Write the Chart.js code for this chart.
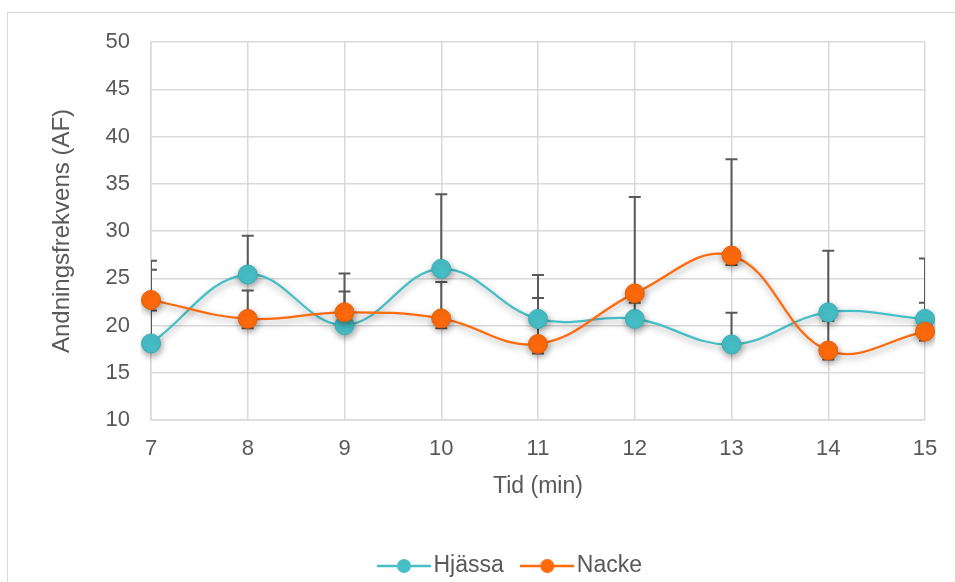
<!DOCTYPE html>
<html>
<head>
<meta charset="utf-8">
<script src="https://cdn.jsdelivr.net/npm/chart.js@4/dist/chart.umd.min.js"></script>
<style>
  html, body { margin: 0; padding: 0; background: #ffffff; overflow: hidden; }
  #frame { position: absolute; left: 7px; top: 12px; width: 2000px; height: 2000px; border: 1px solid #d9d9d9; }
  #wrap { position: absolute; left: 0; top: 0; width: 955px; height: 582px; }
</style>
</head>
<body>
<div id="frame"></div>
<div id="wrap"><canvas id="c" width="955" height="582"></canvas></div>
<script>
// ---- data ----
const categories = ['7', '8', '9', '10', '11', '12', '13', '14', '15'];
const seriesNames = ['Hjässa', 'Nacke'];
const hjassa = [18.1, 25.4, 20.05, 26.0, 20.7, 20.7, 18.0, 21.4, 20.7];
const nacke  = [22.7, 20.7, 21.4, 20.75, 18.05, 23.4, 27.4, 17.35, 19.35];
// error bars (deltas)
const hjassaPlus = [8.75, 4.1, 5.45, 7.9, 4.65, 2.2, 3.35, 6.5, 6.4];
const nackePlus  = [3.2, 3.0, 2.2, 3.85, 4.85, 10.2, 10.2, 3.15, 3.05];
const nackeMinus = [1.1, 1.0, 1.0, 1.05, 1.0, 1.0, 1.0, 0.95, 0.95];
const yTicks = [10, 15, 20, 25, 30, 35, 40, 45, 50];

const TEAL = '#46bfc7';
const ORANGE = '#ff6a0c';
const GRID = '#d9d9d9';
const TXT = '#595959';
const FONT = "'Liberation Sans', Arial, sans-serif";

function makeIcon(color) {
  const cv = document.createElement('canvas');
  cv.width = 54; cv.height = 20;
  const g = cv.getContext('2d');
  g.strokeStyle = color; g.lineWidth = 2.5;
  g.beginPath(); g.moveTo(0, 10); g.lineTo(54, 10); g.stroke();
  g.fillStyle = color;
  g.beginPath(); g.arc(27, 10, 7, 0, Math.PI * 2); g.fill();
  return cv;
}
const icons = [makeIcon(TEAL), makeIcon(ORANGE)];

const errorBars = {
  id: 'errorBars',
  beforeDatasetsDraw(chart) {
    const ctx = chart.ctx, xs = chart.scales.x, ys = chart.scales.y, a = chart.chartArea;
    ctx.save();
    ctx.beginPath(); ctx.rect(a.left, a.top, a.right - a.left, a.bottom - a.top); ctx.clip();
    ctx.strokeStyle = '#595959'; ctx.lineWidth = 2;
    const cap = 6;
    function bar(i, from, to) {
      const x = xs.getPixelForValue(i);
      const y0 = ys.getPixelForValue(from), y1 = ys.getPixelForValue(to);
      ctx.beginPath(); ctx.moveTo(x, y0); ctx.lineTo(x, y1);
      ctx.moveTo(x - cap, y1); ctx.lineTo(x + cap, y1); ctx.stroke();
    }
    categories.forEach((c, i) => {
      bar(i, hjassa[i], hjassa[i] + hjassaPlus[i]);
      bar(i, nacke[i], nacke[i] + nackePlus[i]);
      bar(i, nacke[i], nacke[i] - nackeMinus[i]);
    });
    ctx.restore();
  }
};

const shadows = {
  id: 'shadows',
  beforeDatasetDraw(chart) {
    const ctx = chart.ctx;
    ctx.save();
    ctx.shadowColor = 'rgba(0,0,0,0.38)';
    ctx.shadowBlur = 7;
    ctx.shadowOffsetX = 1;
    ctx.shadowOffsetY = 3;
  },
  afterDatasetDraw(chart) { chart.ctx.restore(); }
};

const legendPlace = {
  id: 'legendPlace',
  afterLayout(chart) {
    const lg = chart.legend;
    if (!lg || !lg.lineWidths) return;
    const p = lg.options.labels.padding;
    const curX = (lg.left + p + lg.right - lg.lineWidths[0]) / 2;
    const dx = 386 - curX;
    lg.left += dx; lg.right += dx;
    const h = lg.height;
    lg.top = 554.5 - p; lg.bottom = lg.top + h;
  }
};

new Chart(document.getElementById('c'), {
  type: 'line',
  data: {
    labels: categories,
    datasets: [
      { label: seriesNames[0], data: hjassa, order: 1, borderColor: TEAL, backgroundColor: TEAL,
        pointBackgroundColor: TEAL, pointBorderColor: '#3aaeb6', pointBorderWidth: 1,
        borderWidth: 2.25, pointRadius: 9.5, pointHoverRadius: 9.5, tension: 0.4, fill: false },
      { label: seriesNames[1], data: nacke, order: 0, borderColor: ORANGE, backgroundColor: ORANGE,
        pointBackgroundColor: ORANGE, pointBorderColor: '#e85f00', pointBorderWidth: 1,
        borderWidth: 2.25, pointRadius: 9.5, pointHoverRadius: 9.5, tension: 0.4, fill: false }
    ]
  },
  options: {
    responsive: false,
    animation: false,
    events: [],
    layout: { padding: { left: 0, right: 30, top: 42, bottom: 0 } },
    scales: {
      x: {
        type: 'category',
        offset: false,
        grid: { color: GRID, lineWidth: 1.5, drawTicks: false },
        border: { color: GRID, width: 1.5 },
        ticks: { color: TXT, font: { family: FONT, size: 22 }, padding: 16, maxRotation: 0, autoSkip: false },
        title: { display: true, text: 'Tid (min)', color: TXT, font: { family: FONT, size: 23 }, padding: { top: 0, bottom: 23 } },
        afterFit(s) { s.height = 103.5; }
      },
      y: {
        min: 10, max: 50,
        afterBuildTicks(s) { s.ticks = yTicks.map(v => ({ value: v })); },
        grid: { color: GRID, lineWidth: 1.5, drawTicks: false },
        border: { color: GRID, width: 1.5 },
        ticks: { color: TXT, font: { family: FONT, size: 22 }, padding: 21 },
        title: { display: true, text: 'Andningsfrekvens (AF)', color: TXT, font: { family: FONT, size: 24 }, padding: { top: 48, bottom: 0 } },
        afterFit(s) { s.width = 151; }
      }
    },
    plugins: {
      tooltip: { enabled: false },
      legend: {
        position: 'bottom',
        labels: {
          usePointStyle: true,
          pointStyleWidth: 36,
          padding: 25.5,
          color: TXT,
          font: { family: FONT, size: 23 },
          sort: (a, b) => a.datasetIndex - b.datasetIndex,
          generateLabels(chart) {
            const items = Chart.defaults.plugins.legend.labels.generateLabels(chart);
            items.forEach(it => { it.pointStyle = icons[it.datasetIndex]; });
            return items;
          }
        }
      }
    }
  },
  plugins: [errorBars, shadows, legendPlace]
});
</script>
</body>
</html>
